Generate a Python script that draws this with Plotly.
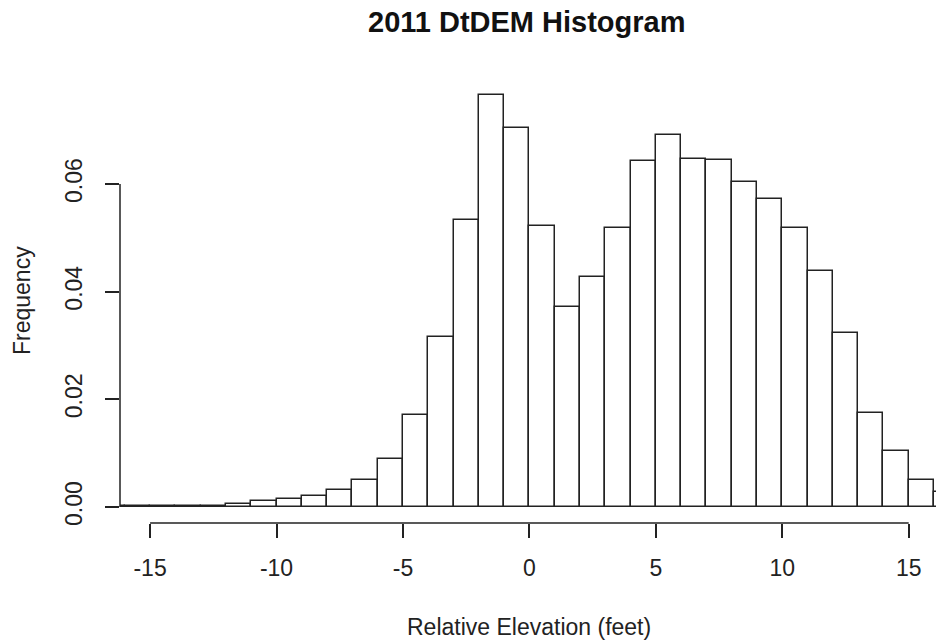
import plotly.graph_objects as go

# Histogram bins (left edges, width 1 foot) and relative frequencies
bin_left = list(range(-17, 17))
freq = [0.0002, 0.0002, 0.0002, 0.0002, 0.0002,   # -17 .. -13
        0.0005, 0.0011, 0.0014, 0.0020, 0.0031,   # -12 .. -8
        0.0051, 0.0089, 0.0171, 0.0316, 0.0533,   # -7 .. -3
        0.0765, 0.0705,                           # -2, -1
        0.0522, 0.0371, 0.0427, 0.0519, 0.0642,   # 0 .. 4
        0.0692, 0.0647, 0.0645, 0.0603, 0.0572,   # 5 .. 9
        0.0519, 0.0438, 0.0324, 0.0174, 0.0104,   # 10 .. 14
        0.0051, 0.0028]                           # 15, 16
bin_width = 1
x_ticks = [-15, -10, -5, 0, 5, 10, 15]
y_ticks = [0.00, 0.02, 0.04, 0.06]
y_tick_text = ["0.00", "0.02", "0.04", "0.06"]

title_text = "2011 DtDEM Histogram"
x_title = "Relative Elevation (feet)"
y_title = "Frequency"

FONT = "Liberation Sans, Arial, sans-serif"
INK = "#222222"

centers = [b + bin_width / 2 for b in bin_left]

fig = go.Figure(go.Bar(
    x=centers, y=freq, width=bin_width,
    marker=dict(color="white", line=dict(color=INK, width=1.5)),
    hoverinfo="skip",
))

fig.update_layout(
    width=936, height=640,
    margin=dict(l=120, r=0, t=79, b=117, autoexpand=False),
    plot_bgcolor="white", paper_bgcolor="white",
    showlegend=False,
    bargap=0,
    font=dict(family=FONT, size=23, color=INK),
    title=dict(text="<b>" + title_text + "</b>", x=0.4985, xref="paper", xanchor="center",
               y=1 - 22 / 640, yref="container", yanchor="middle",
               font=dict(family=FONT, size=29, color="#111111")),
)

fig.update_xaxes(
    range=[-16.19, 16.08], showgrid=False, zeroline=False, showline=False, automargin=False,
    tickmode="array", tickvals=x_ticks, ticktext=[str(v) for v in x_ticks],
    ticks="outside", ticklen=14, tickwidth=1.5, tickcolor=INK,
    ticklabelstandoff=10, tickfont=dict(size=23, color=INK),
)
fig.update_yaxes(
    range=[-0.002977, 0.07952], showgrid=False, zeroline=False, showline=False, automargin=False,
    tickmode="array", tickvals=y_ticks, ticktext=y_tick_text, tickangle=-90,
    ticks="outside", ticklen=14, tickwidth=1.5, tickcolor=INK,
    ticklabelstandoff=14, tickfont=dict(size=23, color=INK),
)

# R-style axis lines spanning only first..last tick
fig.add_shape(type="line", xref="x", yref="paper", x0=x_ticks[0], x1=x_ticks[-1], y0=0, y1=0,
              line=dict(color=INK, width=1.5))
fig.add_shape(type="line", xref="paper", yref="y", x0=0, x1=0, y0=y_ticks[0], y1=y_ticks[-1],
              line=dict(color=INK, width=1.5))

fig.add_annotation(text=x_title, xref="paper", yref="paper", x=0.501, y=0,
                   xanchor="center", yanchor="middle", yshift=-104, showarrow=False,
                   font=dict(family=FONT, size=23, color=INK))
fig.add_annotation(text=y_title, xref="paper", yref="paper", x=0, y=0.5,
                   xanchor="center", yanchor="middle", xshift=-98, textangle=-90, showarrow=False,
                   font=dict(family=FONT, size=23, color=INK))

fig.write_html("out.html", config={"displayModeBar": False},
               post_script="document.body.style.margin='0';document.body.style.overflow='hidden';")
